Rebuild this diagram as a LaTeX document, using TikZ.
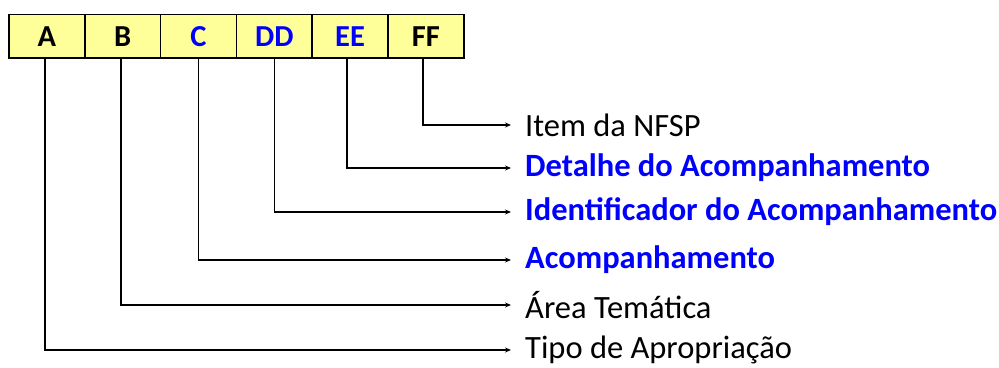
\documentclass[tikz,border=0pt]{standalone}
\usepackage{fontspec}
\setmainfont{Carlito}
\usepackage{xcolor}
\usetikzlibrary{positioning,arrows.meta}
\definecolor{cellfill}{HTML}{FFFF99}
\definecolor{codeblue}{HTML}{0000FF}
\tikzstyle{cell} = [draw, line width=1.6pt, fill=cellfill, minimum width=75.8pt,
    minimum height=43.5pt, inner sep=0pt, outer sep=0pt,
    font=\fontsize{30.5}{32}\selectfont\bfseries]
\tikzset{desc/.style={anchor=west, inner xsep=14pt, inner ysep=0pt,
    font=\fontsize{32.5}{36}\selectfont},
    descblue/.style={desc, text=codeblue, font=\fontsize{32.5}{36}\selectfont\bfseries},
    link/.style={line width=1.6pt, -{Stealth[length=6pt,width=5pt]}}}

\begin{document}
\begin{tikzpicture}[x=1pt,y=1pt]
    \useasboundingbox (0,0) rectangle (999,367);
    % code cells
    \node[cell] (A) at (46.9,330.7) {A};
    \node[cell, right=0pt of A] (B) {B};
    \node[cell, right=0pt of B, text=codeblue] (C) {C};
    \node[cell, right=0pt of C, text=codeblue] (D) {DD};
    \node[cell, right=0pt of D, text=codeblue] (E) {EE};
    \node[cell, right=0pt of E] (F) {FF};
    %
    % descriptions
    \node[desc] (item) at (511,242) {Item da NFSP};
    \node[descblue] (detalhe) at (511,199) {Detalhe do Acompanhamento};
    \node[descblue] (ident) at (511,155) {Identificador do Acompanhamento};
    \node[descblue] (acomp) at (511,107) {Acompanhamento};
    \node[desc] (area) at (511,62) {Área Temática};
    \node[desc] (tipo) at (511,17) {Tipo de Apropriação};
    %
    % connectors
    \draw[link] ([xshift=-2pt]A.south) |- (tipo.west);
    \draw[link] ([xshift=-1.5pt]B.south) |- (area.west);
    \draw[link] (C.south) |- (acomp.west);
    \draw[link] (D.south) |- (ident.west);
    \draw[link] ([xshift=-3pt]E.south) |- (detalhe.west);
    \draw[link] ([xshift=-3pt]F.south) |- (item.west);
\end{tikzpicture}
\end{document}
